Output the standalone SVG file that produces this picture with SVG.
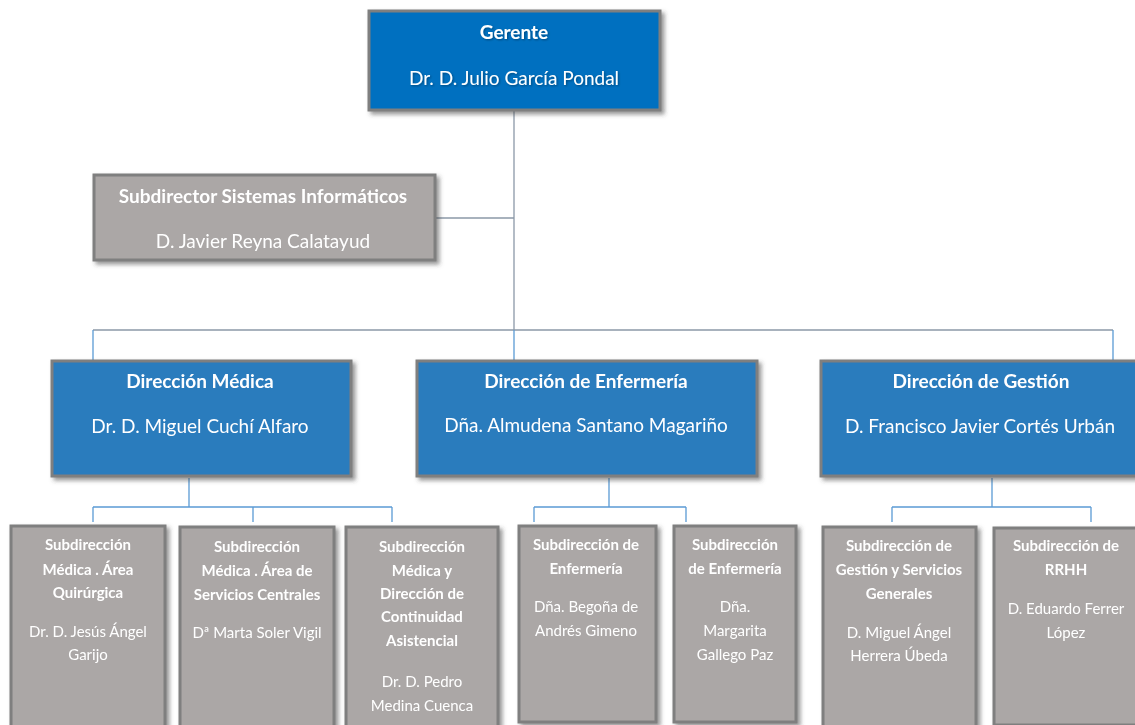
<svg xmlns="http://www.w3.org/2000/svg" width="1135" height="725" viewBox="0 0 1135 725">
<defs>
<filter id="sh" x="-10%" y="-10%" width="125%" height="125%">
<feDropShadow dx="3" dy="3" stdDeviation="2" flood-color="#404040" flood-opacity="0.55"/>
</filter>
<filter id="tsh" x="-5%" y="-20%" width="110%" height="150%">
<feDropShadow dx="1" dy="1" stdDeviation="1" flood-color="#000" flood-opacity="0.35"/>
</filter>
<style>
.top{fill:#0070c0;stroke:#7f7f7f;stroke-width:3}
.dir{fill:#2a7bbd;stroke:#7f7f7f;stroke-width:3}
.gry{fill:#aba7a6;stroke:#7f7f7f;stroke-width:3}
text{font-family:Lato,"Open Sans","Liberation Sans",sans-serif;fill:#ffffff;text-anchor:middle}
.b{font-weight:bold}
.t1{font-size:19px}
.t2{font-size:19px}
.s{font-size:15px}
.gl{fill:none;stroke:#8c99a8;stroke-width:1.3}
.bl{fill:none;stroke:#5b9bd5;stroke-width:1.3}
</style>
</defs>
<rect width="1135" height="725" fill="#ffffff"/>
<g id="connectors">
<path class="gl" d="M514,110 V330 M436,218 H514 M93,330 H1113"/>
<path class="bl" d="M93,330 V360 M514,330 V360 M1113,330 V360"/>
<path class="bl" d="M189,478 V507 M93,507 H392 M93,507 V522 M253,507 V522 M392,507 V522"/>
<path class="bl" d="M609,478 V507 M534,507 H686 M534,507 V522 M686,507 V522"/>
<path class="bl" d="M992,478 V507 M892,507 H1091 M892,507 V522 M1091,507 V522"/>
</g>
<g id="gerente" filter="url(#sh)">
<rect class="top" x="369" y="11" width="291" height="99"/>
<text class="b t1" x="514" y="39" filter="url(#tsh)">Gerente</text>
<text class="t2" x="514" y="85" filter="url(#tsh)">Dr. D. Julio García Pondal</text>
</g>
<g id="subdirector-sistemas" filter="url(#sh)">
<rect class="gry" x="94" y="175" width="341" height="85"/>
<text class="b t1" x="263" y="203">Subdirector Sistemas Informáticos</text>
<text class="t2" x="263" y="248">D. Javier Reyna Calatayud</text>
</g>
<g id="direccion-medica" filter="url(#sh)">
<rect class="dir" x="52" y="361" width="299" height="115"/>
<text class="b t1" x="200" y="388">Dirección Médica</text>
<text class="t2" x="200" y="433">Dr. D. Miguel Cuchí Alfaro</text>
</g>
<g id="direccion-enfermeria" filter="url(#sh)">
<rect class="dir" x="417" y="361" width="340" height="115"/>
<text class="b t1" x="586" y="388">Dirección de Enfermería</text>
<text class="t2" x="586" y="432">Dña. Almudena Santano Magariño</text>
</g>
<g id="direccion-gestion" filter="url(#sh)">
<rect class="dir" x="821" y="361" width="320" height="115"/>
<text class="b t1" x="981" y="388">Dirección de Gestión</text>
<text class="t2" x="980" y="433">D. Francisco Javier Cortés Urbán</text>
</g>
<g id="sub-quirurgica" filter="url(#sh)">
<rect class="gry" x="11" y="526" width="154" height="204"/>
<text class="b s" x="88" y="550">Subdirección</text>
<text class="b s" x="88" y="575">Médica . Área</text>
<text class="b s" x="88" y="598">Quirúrgica</text>
<text class="s" x="88" y="637">Dr. D. Jesús Ángel</text>
<text class="s" x="88" y="660">Garijo</text>
</g>
<g id="sub-servicios-centrales" filter="url(#sh)">
<rect class="gry" x="180" y="527" width="154" height="203"/>
<text class="b s" x="257" y="552">Subdirección</text>
<text class="b s" x="257" y="576">Médica . Área de</text>
<text class="b s" x="257" y="600">Servicios Centrales</text>
<text class="s" x="257" y="638">Dª Marta Soler Vigil</text>
</g>
<g id="sub-continuidad" filter="url(#sh)">
<rect class="gry" x="346" y="527" width="152" height="203"/>
<text class="b s" x="422" y="552">Subdirección</text>
<text class="b s" x="422" y="576">Médica y</text>
<text class="b s" x="422" y="599">Dirección  de</text>
<text class="b s" x="422" y="622">Continuidad</text>
<text class="b s" x="422" y="646">Asistencial</text>
<text class="s" x="422" y="687">Dr. D. Pedro</text>
<text class="s" x="422" y="711">Medina Cuenca</text>
</g>
<g id="sub-enfermeria-1" filter="url(#sh)">
<rect class="gry" x="519" y="526" width="137" height="196"/>
<text class="b s" x="586" y="550">Subdirección de</text>
<text class="b s" x="586" y="574">Enfermería</text>
<text class="s" x="586" y="612">Dña. Begoña de</text>
<text class="s" x="586" y="636">Andrés Gimeno</text>
</g>
<g id="sub-enfermeria-2" filter="url(#sh)">
<rect class="gry" x="674" y="526" width="122" height="196"/>
<text class="b s" x="735" y="550">Subdirección</text>
<text class="b s" x="735" y="574">de Enfermería</text>
<text class="s" x="735" y="612">Dña.</text>
<text class="s" x="735" y="636">Margarita</text>
<text class="s" x="735" y="660">Gallego Paz</text>
</g>
<g id="sub-gestion-servicios" filter="url(#sh)">
<rect class="gry" x="823" y="527" width="153" height="200"/>
<text class="b s" x="899" y="551">Subdirección de</text>
<text class="b s" x="899" y="575">Gestión y Servicios</text>
<text class="b s" x="899" y="599">Generales</text>
<text class="s" x="899" y="638">D. Miguel Ángel</text>
<text class="s" x="899" y="661">Herrera Úbeda</text>
</g>
<g id="sub-rrhh" filter="url(#sh)">
<rect class="gry" x="994" y="528" width="150" height="197"/>
<text class="b s" x="1066" y="551">Subdirección de</text>
<text class="b s" x="1066" y="575">RRHH</text>
<text class="s" x="1066" y="614">D. Eduardo Ferrer</text>
<text class="s" x="1066" y="638">López</text>
</g>
</svg>
